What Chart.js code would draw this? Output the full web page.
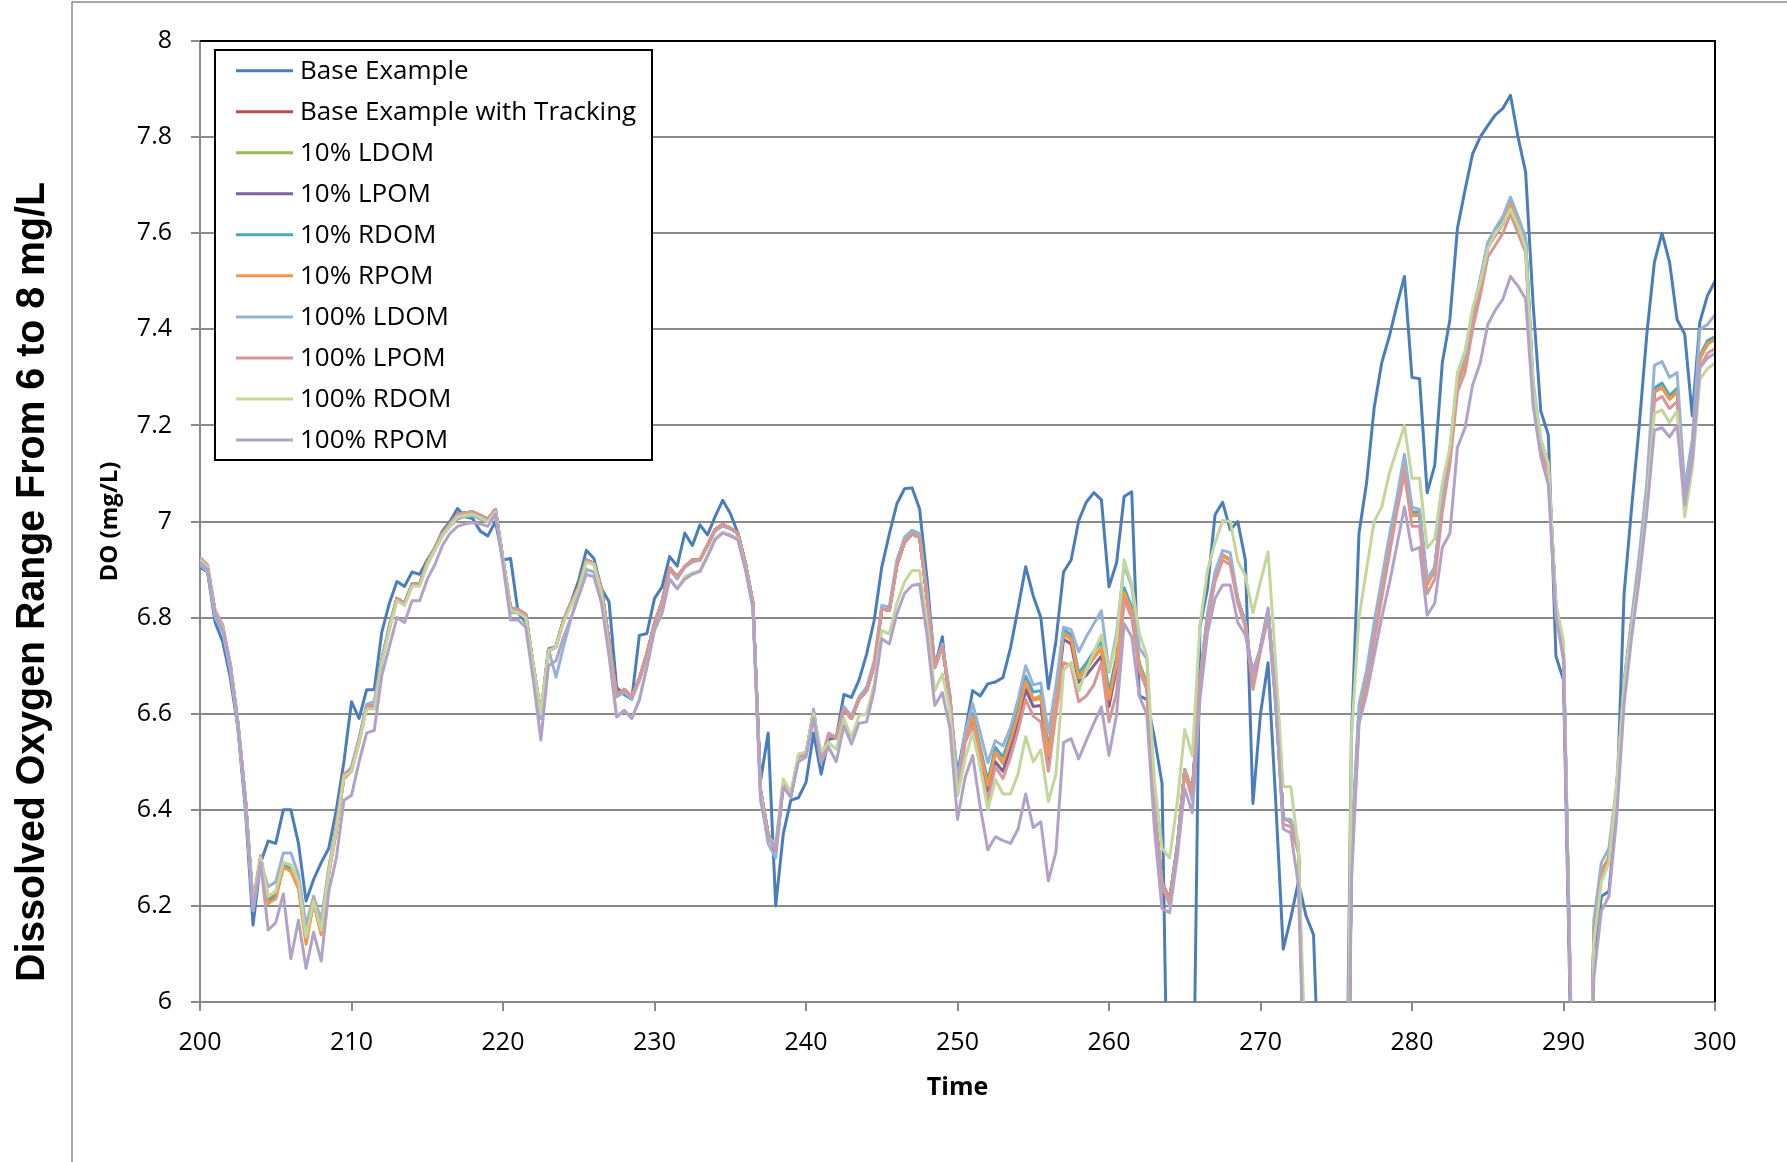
<!DOCTYPE html>
<html>
<head>
<meta charset="utf-8">
<title>Dissolved Oxygen Range From 6 to 8 mg/L</title>
<script src="https://cdn.jsdelivr.net/npm/chart.js@4.4.1/dist/chart.umd.min.js"></script>
<style>
  html, body { margin: 0; padding: 0; background: #fff; }
  canvas { display: block; }
</style>
</head>
<body>
<canvas id="doChart" width="1787" height="1162"></canvas>
<script>
// time axis: one reading every half day
const times = [];
for (let t = 200; t <= 300; t += 0.5) times.push(t);

const seriesNames = [
  "Base Example", "Base Example with Tracking", "10% LDOM", "10% LPOM", "10% RDOM",
  "10% RPOM", "100% LDOM", "100% LPOM", "100% RDOM", "100% RPOM"
];
const seriesColors = [
  "#4A7EBB", "#BE4B48", "#98B954", "#7D60A0", "#46AAC5",
  "#F79646", "#95B3D7", "#D99694", "#C3D69B", "#B3A2C7"
];
const yTicks = [6, 6.2, 6.4, 6.6, 6.8, 7, 7.2, 7.4, 7.6, 7.8, 8];

const baseExample = [
  6.905, 6.895, 6.79, 6.75, 6.675, 6.57, 6.40, 6.16, 6.29, 6.335,
  6.33, 6.40, 6.40, 6.33, 6.21, 6.255, 6.29, 6.32, 6.40, 6.50,
  6.625, 6.59, 6.65, 6.65, 6.77, 6.83, 6.875, 6.865, 6.895, 6.89,
  6.92, 6.945, 6.98, 7.00, 7.027, 7.01, 7.006, 6.98, 6.97, 7.00,
  6.92, 6.923, 6.81, 6.79, 6.68, 6.59, 6.735, 6.74, 6.795, 6.833,
  6.878, 6.94, 6.923, 6.86, 6.833, 6.655, 6.64, 6.63, 6.763, 6.767,
  6.84, 6.864, 6.927, 6.907, 6.976, 6.95, 6.993, 6.972, 7.01, 7.044,
  7.017, 6.976, 6.913, 6.82, 6.46, 6.56, 6.20, 6.35, 6.42, 6.425,
  6.457, 6.56, 6.474, 6.547, 6.55, 6.64, 6.634, 6.67, 6.724, 6.794,
  6.905, 6.974, 7.037, 7.068, 7.07, 7.026, 6.877, 6.697, 6.76, 6.606,
  6.475, 6.56, 6.648, 6.637, 6.662, 6.666, 6.675, 6.737, 6.82, 6.906,
  6.845, 6.80, 6.652, 6.752, 6.895, 6.92, 7.002, 7.04, 7.06, 7.045,
  6.864, 6.914, 7.052, 7.062, 6.637, 6.63, 6.55, 6.455, 5.5, 4.9,
  4.9, 5.6, 6.78, 6.86, 7.014, 7.04, 6.983, 7.0, 6.92, 6.413,
  6.60, 6.706, 6.42, 6.11, 6.175, 6.25, 6.18, 6.14, 5.7, 4.9,
  4.9, 5.3, 6.55, 6.975, 7.08, 7.236, 7.33, 7.385, 7.45, 7.51,
  7.30, 7.297, 7.06, 7.117, 7.33, 7.42, 7.61, 7.69, 7.765, 7.80,
  7.824, 7.846, 7.86, 7.887, 7.80, 7.727, 7.45, 7.23, 7.18, 6.72,
  6.67, 5.9, 4.9, 4.9, 6.1, 6.22, 6.23, 6.40, 6.85, 7.03,
  7.2, 7.39, 7.54, 7.60, 7.54, 7.42, 7.39, 7.22, 7.415, 7.47,
  7.50
];

const baseTracking = [
  6.92, 6.905, 6.81, 6.78, 6.70, 6.58, 6.42, 6.20, 6.30, 6.21,
  6.22, 6.285, 6.28, 6.245, 6.13, 6.21, 6.145, 6.27, 6.36, 6.47,
  6.485, 6.545, 6.615, 6.617, 6.71, 6.78, 6.84, 6.83, 6.87, 6.87,
  6.915, 6.945, 6.975, 6.995, 7.015, 7.018, 7.02, 7.013, 7.005, 7.025,
  6.92, 6.82, 6.817, 6.806, 6.70, 6.60, 6.73, 6.74, 6.795, 6.83,
  6.864, 6.92, 6.913, 6.86, 6.75, 6.64, 6.65, 6.636, 6.673, 6.725,
  6.788, 6.833, 6.903, 6.885, 6.906, 6.92, 6.92, 6.951, 6.983, 6.994,
  6.986, 6.976, 6.913, 6.83, 6.44, 6.35, 6.315, 6.453, 6.43, 6.51,
  6.516, 6.603, 6.50, 6.557, 6.55, 6.61, 6.59, 6.63, 6.648, 6.70,
  6.818, 6.815, 6.91, 6.957, 6.974, 6.967, 6.84, 6.697, 6.74, 6.634,
  6.44, 6.55, 6.594, 6.52, 6.45, 6.52, 6.498, 6.544, 6.598, 6.667,
  6.63, 6.637, 6.513, 6.63, 6.768, 6.756, 6.675, 6.694, 6.717, 6.737,
  6.63, 6.706, 6.852, 6.814, 6.70, 6.66, 6.398, 6.248, 6.213, 6.32,
  6.483, 6.437, 6.667, 6.80, 6.883, 6.93, 6.92, 6.837, 6.79, 6.66,
  6.737, 6.814, 6.63, 6.383, 6.375, 6.32, 5.7, 5.0, 5.0, 5.0,
  5.0, 5.0, 6.3, 6.6, 6.67, 6.77, 6.86, 6.95, 7.04, 7.125,
  7.013, 7.013, 6.87, 6.9, 7.04, 7.14, 7.29, 7.33, 7.42, 7.49,
  7.57, 7.597, 7.62, 7.66, 7.62, 7.58, 7.27, 7.16, 7.11, 6.82,
  6.72, 5.95, 5.0, 5.0, 6.15, 6.27, 6.30, 6.44, 6.66, 6.79,
  6.91, 7.06, 7.27, 7.28, 7.255, 7.27, 7.04, 7.15, 7.34, 7.37,
  7.38
];

const ldom10 = [
  6.92, 6.905, 6.81, 6.78, 6.70, 6.58, 6.42, 6.20, 6.30, 6.215,
  6.225, 6.285, 6.28, 6.24, 6.13, 6.21, 6.145, 6.27, 6.36, 6.47,
  6.485, 6.545, 6.615, 6.617, 6.71, 6.78, 6.84, 6.83, 6.87, 6.87,
  6.915, 6.945, 6.975, 6.995, 7.015, 7.018, 7.02, 7.013, 7.005, 7.025,
  6.92, 6.82, 6.817, 6.806, 6.70, 6.60, 6.73, 6.74, 6.795, 6.83,
  6.864, 6.92, 6.913, 6.86, 6.75, 6.64, 6.65, 6.636, 6.673, 6.725,
  6.788, 6.833, 6.903, 6.885, 6.906, 6.92, 6.92, 6.951, 6.983, 6.994,
  6.986, 6.976, 6.913, 6.83, 6.44, 6.35, 6.315, 6.453, 6.43, 6.51,
  6.516, 6.603, 6.50, 6.557, 6.55, 6.61, 6.59, 6.63, 6.648, 6.70,
  6.818, 6.815, 6.91, 6.957, 6.974, 6.967, 6.84, 6.697, 6.74, 6.634,
  6.44, 6.55, 6.594, 6.52, 6.448, 6.52, 6.496, 6.54, 6.594, 6.664,
  6.628, 6.632, 6.51, 6.628, 6.766, 6.754, 6.674, 6.692, 6.716, 6.736,
  6.63, 6.706, 6.852, 6.814, 6.70, 6.66, 6.398, 6.248, 6.213, 6.32,
  6.483, 6.437, 6.667, 6.80, 6.883, 6.93, 6.92, 6.837, 6.79, 6.66,
  6.737, 6.814, 6.63, 6.383, 6.375, 6.32, 5.7, 5.0, 5.0, 5.0,
  5.0, 5.0, 6.3, 6.6, 6.67, 6.77, 6.86, 6.95, 7.04, 7.125,
  7.013, 7.013, 6.87, 6.9, 7.04, 7.14, 7.29, 7.33, 7.42, 7.49,
  7.57, 7.597, 7.62, 7.66, 7.62, 7.58, 7.27, 7.16, 7.11, 6.82,
  6.72, 5.95, 5.0, 5.0, 6.15, 6.27, 6.30, 6.44, 6.66, 6.79,
  6.91, 7.06, 7.27, 7.28, 7.255, 7.27, 7.04, 7.15, 7.34, 7.37,
  7.38
];

const lpom10 = [
  6.92, 6.905, 6.81, 6.78, 6.70, 6.58, 6.42, 6.20, 6.30, 6.21,
  6.22, 6.285, 6.28, 6.245, 6.13, 6.21, 6.145, 6.27, 6.36, 6.47,
  6.485, 6.545, 6.615, 6.617, 6.71, 6.78, 6.84, 6.83, 6.87, 6.87,
  6.915, 6.945, 6.975, 6.995, 7.015, 7.018, 7.02, 7.013, 7.005, 7.025,
  6.92, 6.82, 6.817, 6.806, 6.70, 6.60, 6.73, 6.74, 6.795, 6.83,
  6.864, 6.92, 6.913, 6.86, 6.75, 6.64, 6.65, 6.636, 6.673, 6.725,
  6.788, 6.833, 6.903, 6.885, 6.906, 6.92, 6.92, 6.951, 6.983, 6.994,
  6.986, 6.976, 6.913, 6.83, 6.44, 6.35, 6.315, 6.453, 6.43, 6.51,
  6.516, 6.603, 6.50, 6.557, 6.55, 6.61, 6.59, 6.63, 6.648, 6.70,
  6.818, 6.815, 6.91, 6.957, 6.974, 6.967, 6.84, 6.697, 6.74, 6.634,
  6.435, 6.545, 6.59, 6.51, 6.44, 6.50, 6.48, 6.53, 6.58, 6.65,
  6.615, 6.617, 6.50, 6.62, 6.755, 6.745, 6.665, 6.68, 6.70, 6.72,
  6.615, 6.695, 6.845, 6.81, 6.70, 6.66, 6.398, 6.248, 6.213, 6.32,
  6.483, 6.437, 6.667, 6.80, 6.883, 6.93, 6.92, 6.837, 6.79, 6.66,
  6.737, 6.814, 6.63, 6.383, 6.375, 6.32, 5.7, 5.0, 5.0, 5.0,
  5.0, 5.0, 6.3, 6.6, 6.67, 6.77, 6.86, 6.95, 7.04, 7.125,
  7.013, 7.013, 6.87, 6.9, 7.04, 7.14, 7.29, 7.33, 7.42, 7.49,
  7.57, 7.597, 7.62, 7.66, 7.62, 7.58, 7.27, 7.16, 7.11, 6.82,
  6.72, 5.95, 5.0, 5.0, 6.15, 6.27, 6.30, 6.44, 6.66, 6.79,
  6.91, 7.06, 7.27, 7.28, 7.255, 7.27, 7.04, 7.15, 7.34, 7.37,
  7.38
];

const rdom10 = [
  6.92, 6.905, 6.81, 6.78, 6.70, 6.58, 6.42, 6.20, 6.30, 6.21,
  6.22, 6.285, 6.28, 6.245, 6.13, 6.21, 6.145, 6.27, 6.36, 6.47,
  6.485, 6.545, 6.615, 6.617, 6.71, 6.78, 6.84, 6.83, 6.87, 6.87,
  6.915, 6.945, 6.975, 6.995, 7.015, 7.018, 7.02, 7.013, 7.005, 7.025,
  6.92, 6.82, 6.817, 6.806, 6.70, 6.60, 6.73, 6.74, 6.795, 6.83,
  6.864, 6.92, 6.913, 6.86, 6.75, 6.64, 6.65, 6.636, 6.673, 6.725,
  6.788, 6.833, 6.903, 6.885, 6.906, 6.92, 6.92, 6.951, 6.983, 6.994,
  6.986, 6.976, 6.913, 6.83, 6.44, 6.35, 6.315, 6.453, 6.43, 6.51,
  6.516, 6.603, 6.50, 6.557, 6.55, 6.61, 6.59, 6.63, 6.648, 6.70,
  6.818, 6.815, 6.91, 6.957, 6.974, 6.967, 6.84, 6.697, 6.74, 6.634,
  6.445, 6.555, 6.60, 6.53, 6.46, 6.53, 6.51, 6.555, 6.61, 6.678,
  6.645, 6.648, 6.525, 6.64, 6.775, 6.765, 6.685, 6.705, 6.73, 6.75,
  6.645, 6.72, 6.862, 6.822, 6.705, 6.665, 6.40, 6.25, 6.215, 6.325,
  6.483, 6.437, 6.667, 6.80, 6.883, 6.93, 6.92, 6.837, 6.79, 6.66,
  6.737, 6.814, 6.63, 6.383, 6.375, 6.32, 5.7, 5.0, 5.0, 5.0,
  5.0, 5.0, 6.3, 6.6, 6.67, 6.77, 6.86, 6.95, 7.04, 7.125,
  7.02, 7.02, 6.875, 6.905, 7.045, 7.145, 7.295, 7.34, 7.43, 7.50,
  7.58, 7.607, 7.632, 7.668, 7.628, 7.586, 7.275, 7.165, 7.115, 6.825,
  6.72, 5.95, 5.0, 5.0, 6.15, 6.27, 6.30, 6.44, 6.66, 6.79,
  6.915, 7.065, 7.278, 7.288, 7.262, 7.277, 7.045, 7.155, 7.345, 7.376,
  7.385
];

const rpom10 = [
  6.92, 6.905, 6.81, 6.78, 6.70, 6.58, 6.42, 6.20, 6.30, 6.205,
  6.215, 6.28, 6.272, 6.235, 6.12, 6.205, 6.14, 6.265, 6.355, 6.465,
  6.48, 6.54, 6.615, 6.617, 6.71, 6.78, 6.84, 6.83, 6.87, 6.87,
  6.915, 6.945, 6.975, 6.995, 7.015, 7.018, 7.02, 7.013, 7.005, 7.025,
  6.92, 6.82, 6.817, 6.806, 6.70, 6.60, 6.73, 6.74, 6.795, 6.83,
  6.864, 6.92, 6.913, 6.86, 6.75, 6.64, 6.65, 6.636, 6.673, 6.725,
  6.788, 6.833, 6.903, 6.885, 6.906, 6.92, 6.92, 6.951, 6.983, 6.994,
  6.986, 6.976, 6.913, 6.83, 6.44, 6.35, 6.315, 6.453, 6.43, 6.51,
  6.516, 6.603, 6.50, 6.557, 6.55, 6.61, 6.59, 6.63, 6.648, 6.70,
  6.818, 6.815, 6.91, 6.957, 6.974, 6.967, 6.84, 6.697, 6.74, 6.634,
  6.44, 6.55, 6.594, 6.52, 6.45, 6.52, 6.498, 6.544, 6.598, 6.667,
  6.63, 6.637, 6.513, 6.63, 6.768, 6.756, 6.675, 6.694, 6.717, 6.737,
  6.63, 6.706, 6.852, 6.814, 6.70, 6.66, 6.398, 6.248, 6.213, 6.32,
  6.483, 6.437, 6.667, 6.80, 6.883, 6.93, 6.92, 6.837, 6.79, 6.66,
  6.737, 6.814, 6.63, 6.383, 6.375, 6.32, 5.7, 5.0, 5.0, 5.0,
  5.0, 5.0, 6.3, 6.6, 6.67, 6.77, 6.86, 6.95, 7.04, 7.125,
  7.013, 7.013, 6.87, 6.9, 7.04, 7.14, 7.29, 7.33, 7.42, 7.49,
  7.57, 7.597, 7.62, 7.66, 7.62, 7.58, 7.27, 7.16, 7.11, 6.82,
  6.72, 5.95, 5.0, 5.0, 6.15, 6.27, 6.30, 6.44, 6.66, 6.79,
  6.91, 7.06, 7.27, 7.28, 7.255, 7.27, 7.04, 7.15, 7.34, 7.37,
  7.38
];

const ldom100 = [
  6.91, 6.895, 6.80, 6.77, 6.69, 6.575, 6.41, 6.19, 6.29, 6.24,
  6.25, 6.31, 6.31, 6.265, 6.16, 6.22, 6.17, 6.28, 6.37, 6.47,
  6.49, 6.55, 6.62, 6.625, 6.715, 6.785, 6.84, 6.83, 6.87, 6.87,
  6.91, 6.94, 6.97, 6.99, 7.005, 7.01, 7.012, 7.005, 7.0, 7.02,
  6.92, 6.81, 6.81, 6.80, 6.69, 6.59, 6.735, 6.676, 6.74, 6.80,
  6.85, 6.90, 6.895, 6.845, 6.73, 6.635, 6.645, 6.63, 6.668, 6.72,
  6.785, 6.83, 6.90, 6.88, 6.905, 6.915, 6.92, 6.948, 6.98, 6.99,
  6.985, 6.975, 6.91, 6.825, 6.43, 6.33, 6.30, 6.45, 6.43, 6.51,
  6.515, 6.61, 6.50, 6.56, 6.55, 6.615, 6.595, 6.635, 6.655, 6.71,
  6.825, 6.822, 6.92, 6.967, 6.982, 6.975, 6.85, 6.70, 6.745, 6.64,
  6.46, 6.56, 6.621, 6.56, 6.498, 6.544, 6.533, 6.571, 6.63, 6.70,
  6.66, 6.664, 6.56, 6.66, 6.78, 6.775, 6.729, 6.76, 6.787, 6.814,
  6.687, 6.767, 6.91, 6.864, 6.737, 6.714, 6.40, 6.25, 6.20, 6.32,
  6.48, 6.42, 6.67, 6.81, 6.895, 6.94, 6.935, 6.84, 6.79, 6.67,
  6.74, 6.82, 6.62, 6.38, 6.38, 6.33, 5.7, 5.0, 5.0, 5.0,
  5.0, 5.0, 6.32, 6.62, 6.69, 6.79, 6.88, 6.97, 7.05, 7.14,
  7.03, 7.025, 6.88, 6.905, 7.05, 7.15, 7.30, 7.345, 7.435, 7.505,
  7.58, 7.61, 7.635, 7.675, 7.635, 7.59, 7.29, 7.17, 7.12, 6.82,
  6.73, 5.95, 5.0, 5.0, 6.17, 6.29, 6.32, 6.45, 6.67, 6.80,
  6.93, 7.08, 7.325, 7.333, 7.30, 7.31, 7.07, 7.17, 7.40, 7.41,
  7.43
];

const lpom100 = [
  6.925, 6.91, 6.815, 6.785, 6.705, 6.585, 6.425, 6.21, 6.305, 6.22,
  6.23, 6.29, 6.285, 6.25, 6.135, 6.215, 6.15, 6.275, 6.365, 6.475,
  6.485, 6.545, 6.615, 6.617, 6.71, 6.78, 6.84, 6.83, 6.87, 6.87,
  6.915, 6.945, 6.975, 6.995, 7.015, 7.018, 7.02, 7.013, 7.005, 7.025,
  6.92, 6.82, 6.817, 6.806, 6.70, 6.60, 6.73, 6.74, 6.795, 6.83,
  6.864, 6.92, 6.913, 6.86, 6.75, 6.64, 6.65, 6.636, 6.673, 6.725,
  6.788, 6.833, 6.903, 6.885, 6.906, 6.92, 6.92, 6.951, 6.983, 6.994,
  6.986, 6.976, 6.913, 6.83, 6.44, 6.35, 6.315, 6.453, 6.43, 6.51,
  6.516, 6.603, 6.50, 6.557, 6.55, 6.61, 6.59, 6.63, 6.648, 6.70,
  6.818, 6.815, 6.91, 6.957, 6.974, 6.967, 6.84, 6.697, 6.74, 6.634,
  6.43, 6.54, 6.575, 6.49, 6.42, 6.49, 6.465, 6.51, 6.565, 6.63,
  6.595, 6.583, 6.48, 6.6, 6.706, 6.70, 6.625, 6.637, 6.66, 6.706,
  6.583, 6.644, 6.837, 6.80, 6.69, 6.65, 6.39, 6.24, 6.205, 6.31,
  6.475, 6.43, 6.66, 6.79, 6.875, 6.92, 6.91, 6.83, 6.78, 6.65,
  6.73, 6.80, 6.62, 6.37, 6.365, 6.31, 5.7, 5.0, 5.0, 5.0,
  5.0, 5.0, 6.28, 6.58, 6.65, 6.75, 6.84, 6.93, 7.02, 7.10,
  6.99, 6.99, 6.85, 6.88, 7.02, 7.12, 7.27, 7.31, 7.40, 7.47,
  7.55, 7.575, 7.60, 7.64, 7.60, 7.56, 7.26, 7.15, 7.10, 6.81,
  6.71, 5.95, 5.0, 5.0, 6.14, 6.26, 6.29, 6.43, 6.65, 6.78,
  6.90, 7.04, 7.25, 7.26, 7.235, 7.25, 7.03, 7.14, 7.32, 7.35,
  7.36
];

const rdom100 = [
  6.92, 6.905, 6.81, 6.78, 6.70, 6.58, 6.42, 6.20, 6.30, 6.22,
  6.23, 6.29, 6.285, 6.25, 6.135, 6.21, 6.15, 6.27, 6.36, 6.47,
  6.48, 6.54, 6.61, 6.61, 6.705, 6.775, 6.835, 6.825, 6.865, 6.865,
  6.91, 6.94, 6.97, 6.99, 7.01, 7.013, 7.015, 7.008, 7.0, 7.02,
  6.92, 6.815, 6.81, 6.80, 6.70, 6.60, 6.73, 6.74, 6.79, 6.825,
  6.86, 6.915, 6.91, 6.85, 6.73, 6.595, 6.607, 6.59, 6.63, 6.70,
  6.775, 6.81, 6.88, 6.86, 6.885, 6.893, 6.897, 6.93, 6.965, 6.978,
  6.972, 6.965, 6.905, 6.82, 6.43, 6.34, 6.33, 6.464, 6.436, 6.516,
  6.52, 6.60, 6.52, 6.54, 6.526, 6.59, 6.55, 6.596, 6.60, 6.66,
  6.773, 6.766, 6.83, 6.874, 6.898, 6.898, 6.787, 6.648, 6.683, 6.606,
  6.43, 6.506, 6.56, 6.49, 6.40, 6.463, 6.433, 6.433, 6.475, 6.552,
  6.50, 6.525, 6.417, 6.475, 6.69, 6.707, 6.648, 6.69, 6.729, 6.764,
  6.69, 6.752, 6.92, 6.87, 6.767, 6.72, 6.46, 6.32, 6.30, 6.413,
  6.567, 6.513, 6.783, 6.898, 6.956, 7.002, 7.0, 6.918, 6.887, 6.81,
  6.875, 6.937, 6.706, 6.448, 6.448, 6.32, 5.85, 5.0, 5.0, 5.0,
  5.0, 5.0, 6.55, 6.8, 6.9, 7.0, 7.03, 7.1, 7.15, 7.2,
  7.09, 7.09, 6.945, 6.964, 7.08, 7.154, 7.31, 7.355, 7.444, 7.497,
  7.567, 7.60, 7.62, 7.65, 7.615, 7.57, 7.28, 7.17, 7.12, 6.83,
  6.75, 5.98, 5.0, 5.0, 6.12, 6.25, 6.29, 6.45, 6.66, 6.78,
  6.89, 7.04, 7.225, 7.232, 7.206, 7.23, 7.01, 7.11, 7.296, 7.318,
  7.33
];

const rpom100 = [
  6.915, 6.90, 6.81, 6.775, 6.70, 6.58, 6.42, 6.19, 6.29, 6.15,
  6.165, 6.225, 6.09, 6.17, 6.07, 6.145, 6.085, 6.23, 6.30, 6.42,
  6.43, 6.50, 6.56, 6.565, 6.68, 6.74, 6.80, 6.79, 6.835, 6.835,
  6.88, 6.91, 6.95, 6.975, 6.99, 6.995, 6.998, 6.995, 6.99, 7.015,
  6.91, 6.795, 6.795, 6.78, 6.67, 6.545, 6.70, 6.71, 6.76, 6.80,
  6.845, 6.89, 6.885, 6.83, 6.72, 6.593, 6.607, 6.59, 6.628, 6.697,
  6.774, 6.81, 6.88, 6.86, 6.88, 6.89, 6.896, 6.927, 6.962, 6.976,
  6.97, 6.962, 6.90, 6.82, 6.42, 6.34, 6.325, 6.447, 6.426, 6.50,
  6.51, 6.59, 6.50, 6.53, 6.50, 6.575, 6.537, 6.58, 6.583, 6.648,
  6.756, 6.745, 6.808, 6.85, 6.867, 6.87, 6.76, 6.617, 6.644, 6.57,
  6.38, 6.467, 6.513, 6.406, 6.317, 6.344, 6.336, 6.33, 6.36, 6.433,
  6.363, 6.375, 6.252, 6.313, 6.54, 6.548, 6.506, 6.544, 6.58, 6.614,
  6.513, 6.598, 6.787, 6.76, 6.637, 6.598, 6.36, 6.194, 6.186, 6.30,
  6.444, 6.394, 6.63, 6.768, 6.84, 6.868, 6.868, 6.79, 6.764, 6.69,
  6.737, 6.818, 6.63, 6.36, 6.352, 6.244, 5.7, 5.0, 5.0, 5.0,
  5.0, 5.0, 6.25, 6.58, 6.64, 6.72, 6.80, 6.87, 6.95, 7.03,
  6.94, 6.946, 6.805, 6.83, 6.946, 6.975, 7.154, 7.195, 7.284, 7.33,
  7.41, 7.44, 7.463, 7.51, 7.49, 7.463, 7.24, 7.135, 7.076, 6.80,
  6.72, 5.95, 5.0, 5.0, 6.05, 6.19, 6.22, 6.38, 6.62, 6.76,
  6.88, 7.02, 7.19, 7.195, 7.176, 7.20, 7.035, 7.13, 7.32, 7.34,
  7.35
];

const seriesValues = [
  baseExample, baseTracking, ldom10, lpom10, rdom10,
  rpom10, ldom100, lpom100, rdom100, rpom100
];

const FONT = '"Open Sans", "DejaVu Sans", sans-serif';
const GRID = "#8a8a8a";

// page frame, plot border, outer title and the boxed legend
const decorations = {
  id: "decorations",
  beforeDraw(chart) {
    const ctx = chart.ctx;
    ctx.save();
    ctx.fillStyle = "#fff";
    ctx.fillRect(0, 0, chart.width, chart.height);
    ctx.strokeStyle = "#8c8c8c";
    ctx.lineWidth = 1.5;
    ctx.beginPath();
    ctx.moveTo(72, chart.height);
    ctx.lineTo(72, 2);
    ctx.lineTo(chart.width, 2);
    ctx.stroke();
    ctx.restore();
  },
  afterDatasetsDraw(chart) {
    const ctx = chart.ctx;
    const a = chart.chartArea;
    ctx.save();
    ctx.strokeStyle = "#000";
    ctx.lineWidth = 2;
    ctx.beginPath();
    ctx.moveTo(a.left, a.top);
    ctx.lineTo(a.right, a.top);
    ctx.lineTo(a.right, a.bottom);
    ctx.stroke();

    // legend box
    const bx = 215, by = 50, bw = 437, bh = 410;
    ctx.fillStyle = "#fff";
    ctx.fillRect(bx, by, bw, bh);
    ctx.lineWidth = 2;
    ctx.strokeRect(bx, by, bw, bh);
    ctx.font = "26px " + FONT;
    ctx.textBaseline = "middle";
    ctx.textAlign = "left";
    seriesNames.forEach((name, i) => {
      const y = 70.7 + i * 41.03;
      ctx.strokeStyle = seriesColors[i];
      ctx.lineWidth = 3;
      ctx.beginPath();
      ctx.moveTo(236, y);
      ctx.lineTo(293, y);
      ctx.stroke();
      ctx.fillStyle = "#000";
      ctx.fillText(name, 300, y + 1);
    });

    // big rotated title on the far left
    const title = "Dissolved Oxygen Range From 6 to 8 mg/L";
    ctx.translate(33, 582);
    ctx.rotate(-Math.PI / 2);
    ctx.font = 'bold 40px "Liberation Sans", Arial, sans-serif';
    ctx.textAlign = "center";
    ctx.textBaseline = "middle";
    const w = ctx.measureText(title).width;
    ctx.scale(800 / w, 1);
    ctx.fillStyle = "#000";
    ctx.fillText(title, 0, 0);
    ctx.restore();
  }
};

const datasets = seriesNames.map((name, i) => ({
  label: name,
  data: times.map((t, k) => ({ x: t, y: seriesValues[i][k] })),
  borderColor: seriesColors[i],
  backgroundColor: seriesColors[i],
  borderWidth: 3,
  pointRadius: 0,
  tension: 0,
  borderJoinStyle: "round",
  borderCapStyle: "round",
  order: seriesNames.length - i
}));

Chart.defaults.font.family = FONT;
Chart.defaults.color = "#000";

new Chart(document.getElementById("doChart"), {
  type: "line",
  data: { datasets },
  options: {
    responsive: false,
    animation: false,
    devicePixelRatio: 1,
    layout: { padding: { left: 72, right: 72, top: 41, bottom: 0 } },
    plugins: { legend: { display: false }, tooltip: { enabled: false } },
    scales: {
      x: {
        type: "linear",
        min: 200,
        max: 300,
        afterFit(scale) { scale.height = 160; },
        ticks: { stepSize: 10, padding: 17, font: { size: 25 }, color: "#000",
                 callback: (v) => String(v) },
        grid: { drawOnChartArea: false, drawTicks: true, tickLength: 9, color: GRID, lineWidth: 2 },
        border: { display: true, color: GRID, width: 2 },
        title: { display: true, text: "Time", font: { size: 25, weight: "bold" },
                 padding: { top: 0, bottom: 59 }, color: "#000" }
      },
      y: {
        min: 6,
        max: 8,
        afterFit(scale) { scale.width = 128; },
        afterBuildTicks(scale) { scale.ticks = yTicks.map((v) => ({ value: v })); },
        ticks: { padding: 19, font: { size: 25 }, color: "#000",
                 callback: (v) => String(Math.round(v * 10) / 10) },
        grid: { drawTicks: true, tickLength: 9, color: GRID, lineWidth: 2 },
        border: { display: true, color: GRID, width: 2 },
        title: { display: true, text: "DO (mg/L)", font: { size: 24, weight: "bold" },
                 padding: { top: 24, bottom: 0 }, color: "#000" }
      }
    }
  },
  plugins: [decorations]
});
</script>
</body>
</html>
